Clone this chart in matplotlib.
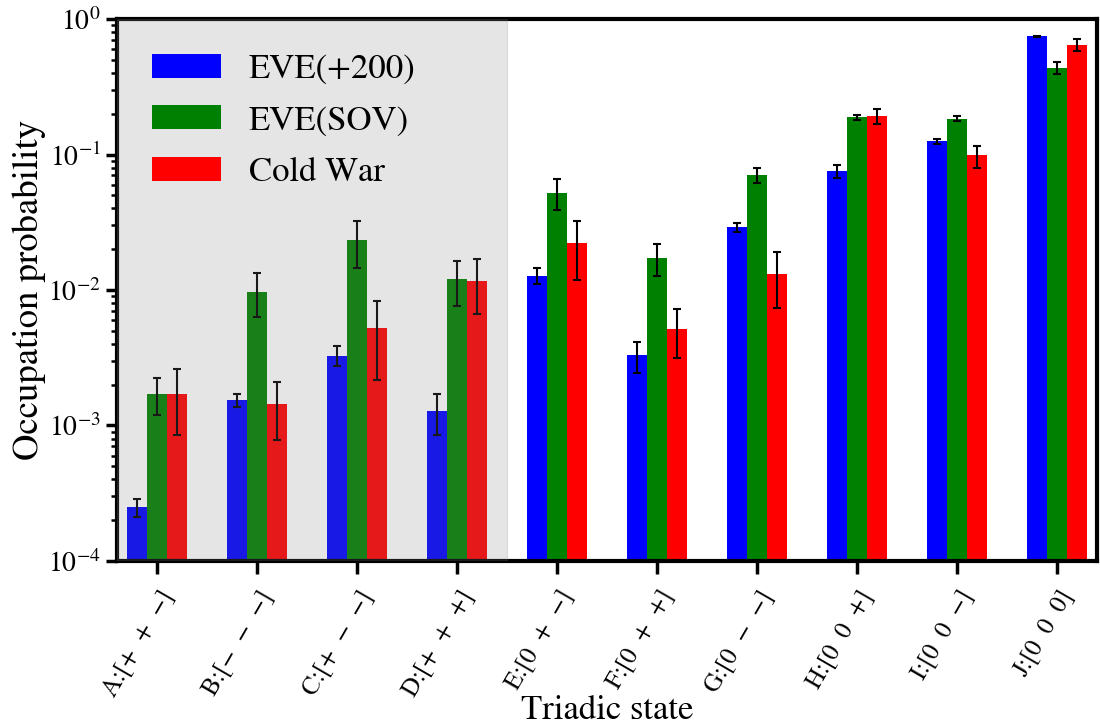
import numpy as np
import matplotlib
matplotlib.use("Agg")
import matplotlib.pyplot as plt

plt.rcParams['font.family'] = ['STIXGeneral', 'DejaVu Serif']
plt.rcParams['mathtext.fontset'] = 'stix'

states = ['A:[+  +  −]', 'B:[−  −  −]', 'C:[+  −  −]', 'D:[+  +  +]', 'E:[0  +  −]',
          'F:[0  +  +]', 'G:[0  −  −]', 'H:[0  0  +]', 'I:[0  0  −]', 'J:[0  0  0]']
series_names = ['EVE(+200)', 'EVE(SOV)', 'Cold War']

eve200 = [2.5e-4, 1.54e-3, 3.27e-3, 1.27e-3, 1.27e-2, 3.30e-3, 2.90e-2, 7.6e-2, 0.125, 0.749]
eve200_hi = [2.88e-4, 1.71e-3, 3.85e-3, 1.70e-3, 1.46e-2, 4.14e-3, 3.14e-2, 8.42e-2, 0.131, 0.755]
eve200_lo = [2.10e-4, 1.38e-3, 2.77e-3, 8.5e-4, 1.10e-2, 2.46e-3, 2.68e-2, 6.75e-2, 0.120, 0.743]

sov = [1.71e-3, 9.7e-3, 2.34e-2, 1.20e-2, 5.23e-2, 1.72e-2, 7.03e-2, 0.189, 0.183, 0.436]
sov_hi = [2.26e-3, 1.33e-2, 3.25e-2, 1.64e-2, 6.57e-2, 2.19e-2, 7.93e-2, 0.197, 0.192, 0.481]
sov_lo = [1.19e-3, 6.3e-3, 1.45e-2, 7.6e-3, 3.9e-2, 1.27e-2, 6.14e-2, 0.180, 0.176, 0.394]

cold = [1.71e-3, 1.44e-3, 5.2e-3, 1.16e-2, 2.21e-2, 5.17e-3, 1.31e-2, 0.192, 9.9e-2, 0.646]
cold_hi = [2.59e-3, 2.10e-3, 8.3e-3, 1.70e-2, 3.25e-2, 7.2e-3, 1.90e-2, 0.217, 0.116, 0.707]
cold_lo = [8.5e-4, 7.8e-4, 2.15e-3, 6.6e-3, 1.18e-2, 3.14e-3, 7.4e-3, 0.168, 8.0e-2, 0.583]

colors = ['#0000ff', '#008000', '#ff0000']

fig = plt.figure(figsize=(11, 7.26), dpi=100)
ax = fig.add_axes([0.1064, 0.2273, 0.8906, 0.7465])

x = np.arange(len(states))
width = 0.2
data = [(eve200, eve200_lo, eve200_hi), (sov, sov_lo, sov_hi), (cold, cold_lo, cold_hi)]
for i, ((v, lo, hi), name, c) in enumerate(zip(data, series_names, colors)):
    v = np.array(v); lo = np.array(lo); hi = np.array(hi)
    pos = x + (i - 1) * width
    ax.bar(pos, v, width, color=c, label=name, zorder=2)
    ax.errorbar(pos, v, yerr=[v - lo, hi - v], fmt='none', ecolor='black',
                elinewidth=1.5, capsize=3, capthick=1.5, zorder=3)

ax.axvspan(-0.4, 3.5, color='gray', alpha=0.2, zorder=4)

ax.set_yscale('log')
ax.set_ylim(1e-4, 1e0)
ax.set_xlim(-0.4, 9.4)
ax.set_xticks(x)
ax.set_xticklabels(states, rotation=60, ha='right', rotation_mode='anchor',
                   fontsize=18)
ax.tick_params(axis='y', which='major', labelsize=20, length=8, width=2.5)
ax.tick_params(axis='y', which='minor', length=4, width=1.8)
ax.tick_params(axis='x', which='major', length=9, width=2.5, pad=9)
for s in ax.spines.values():
    s.set_linewidth(3)

ax.set_ylabel('Occupation probability', fontsize=26.5)
ax.set_xlabel('Triadic state', fontsize=25)
ax.xaxis.set_label_coords(0.5, -0.247)
ax.yaxis.set_label_coords(-0.073, 0.5)

leg = ax.legend(loc='upper left', frameon=False, fontsize=25, labelspacing=0.55,
                handlelength=2.0, borderaxespad=0.6)

fig.savefig('out.png', dpi=100)
